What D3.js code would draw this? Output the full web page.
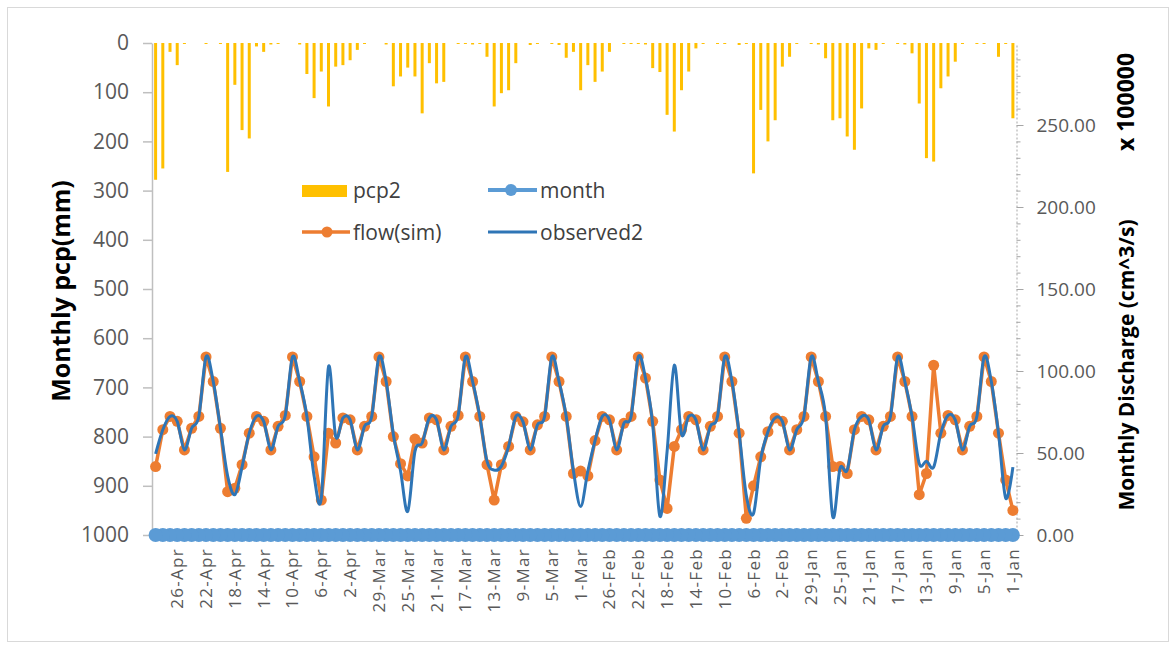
<!DOCTYPE html>
<html>
<head>
<meta charset="utf-8">
<script src="https://cdn.jsdelivr.net/npm/d3@7/dist/d3.min.js"></script>
<style>
  html, body { margin: 0; padding: 0; background: #fff; }
  svg { display: block; }
  text { font-family: "Open Sans", "DejaVu Sans", sans-serif; }
</style>
</head>
<body>
<svg id="chart" width="1176" height="645"></svg>
<script>
// ---- data: 120 monthly records, category keys are day serials 1..120 ----
const days = d3.range(1, 121);

// monthly precipitation (mm), plotted downward from the top
const pcp2 = [153, 2, 28, 0, 2, 2, 0, 2, 38, 68,
  92, 241, 234, 123, 21, 3, 2, 0, 2, 14,
  11, 133, 217, 190, 153, 157, 31, 3, 2, 0,
  2, 28, 48, 157, 200, 136, 265, 2, 4, 0,
  2, 2, 0, 2, 11, 58, 96, 180, 146, 59,
  51, 3, 2, 2, 2, 0, 18, 58, 79, 45,
  96, 18, 30, 4, 2, 0, 2, 4, 0, 41,
  96, 102, 129, 28, 2, 3, 2, 2, 0, 79,
  82, 41, 143, 68, 50, 68, 88, 3, 0, 0,
  2, 14, 35, 45, 48, 129, 58, 112, 63, 3,
  0, 0, 2, 3, 18, 7, 194, 177, 85, 262,
  2, 0, 2, 0, 0, 2, 45, 18, 255, 278];

// simulated discharge (cm^3/s, in units of 100000)
const flowSim = [15.0, 33.6, 62.1, 93.6, 108.6, 72.3, 66.3, 51.9, 70.2, 72.9,
  62.1, 103.5, 37.5, 24.6, 72.3, 93.6, 108.6, 72.3, 66.3, 51.9,
  70.2, 72.3, 64.2, 37.5, 41.7, 41.7, 72.3, 93.6, 108.6, 72.3,
  64.2, 51.9, 69.3, 71.4, 63.0, 47.7, 30.0, 10.2, 62.1, 93.6,
  108.6, 72.3, 66.3, 51.9, 70.2, 72.3, 64.2, 54.0, 16.2, 33.6,
  69.3, 95.7, 108.6, 72.3, 68.1, 51.9, 70.2, 72.3, 57.6, 36.0,
  39.0, 37.5, 72.3, 93.6, 108.6, 72.3, 67.2, 51.9, 69.0, 72.3,
  54.0, 42.9, 21.3, 42.9, 72.3, 93.6, 108.6, 72.9, 66.3, 51.9,
  70.2, 71.4, 56.1, 58.5, 36.0, 43.5, 60.0, 93.6, 108.6, 72.3,
  66.3, 51.9, 70.2, 71.4, 56.1, 62.1, 21.3, 47.7, 72.3, 93.6,
  108.6, 72.9, 66.3, 51.9, 69.3, 72.3, 62.1, 42.9, 28.5, 26.4,
  65.1, 93.6, 108.6, 72.3, 65.1, 51.9, 69.3, 72.3, 64.2, 41.7];

// observed discharge (cm^3/s, in units of 100000)
const observed2 = [41.4, 22.5, 62.1, 93.6, 108.6, 72.3, 66.3, 51.9, 70.2, 72.9,
  62.1, 41.4, 45.0, 43.5, 72.3, 93.6, 108.6, 72.3, 66.3, 51.9,
  70.2, 72.3, 64.2, 39.6, 40.5, 11.1, 72.3, 93.6, 108.6, 72.3,
  64.2, 51.9, 69.3, 71.4, 63.0, 46.5, 13.2, 24.0, 62.1, 93.6,
  108.6, 72.3, 66.3, 51.9, 70.2, 72.3, 61.5, 103.5, 51.0, 11.4,
  67.5, 95.7, 108.6, 72.3, 68.1, 51.9, 70.2, 72.3, 57.6, 39.0,
  17.4, 39.0, 72.3, 93.6, 108.6, 72.3, 67.2, 51.9, 69.0, 72.3,
  54.0, 42.0, 39.6, 45.0, 72.3, 93.6, 108.6, 72.9, 66.3, 51.9,
  70.2, 71.4, 56.1, 51.0, 14.4, 39.0, 61.5, 93.6, 108.6, 72.3,
  66.3, 51.9, 70.2, 71.4, 60.0, 102.6, 22.5, 36.0, 72.3, 93.6,
  108.6, 72.9, 66.3, 51.9, 69.3, 72.3, 62.1, 41.4, 24.6, 36.0,
  65.1, 93.6, 108.6, 72.3, 65.1, 51.9, 69.3, 72.3, 64.2, 49.5];

// month number of each record (raw value, shares the discharge axis)
const month = [1, 2, 3, 4, 5, 6, 7, 8, 9, 10, 11, 12,
  1, 2, 3, 4, 5, 6, 7, 8, 9, 10, 11, 12,
  1, 2, 3, 4, 5, 6, 7, 8, 9, 10, 11, 12,
  1, 2, 3, 4, 5, 6, 7, 8, 9, 10, 11, 12,
  1, 2, 3, 4, 5, 6, 7, 8, 9, 10, 11, 12,
  1, 2, 3, 4, 5, 6, 7, 8, 9, 10, 11, 12,
  1, 2, 3, 4, 5, 6, 7, 8, 9, 10, 11, 12,
  1, 2, 3, 4, 5, 6, 7, 8, 9, 10, 11, 12,
  1, 2, 3, 4, 5, 6, 7, 8, 9, 10, 11, 12,
  1, 2, 3, 4, 5, 6, 7, 8, 9, 10, 11, 12];

// category axis labels (every 4th serial)
const tickDays = [1, 5, 9, 13, 17, 21, 25, 29, 33, 37, 41, 45, 49, 53, 57,
  61, 65, 69, 73, 77, 81, 85, 89, 93, 97, 101, 105, 109, 113, 117];
const tickLabels = ["1-Jan", "5-Jan", "9-Jan", "13-Jan", "17-Jan", "21-Jan", "25-Jan", "29-Jan",
  "2-Feb", "6-Feb", "10-Feb", "14-Feb", "18-Feb", "22-Feb", "26-Feb",
  "1-Mar", "5-Mar", "9-Mar", "13-Mar", "17-Mar", "21-Mar", "25-Mar", "29-Mar",
  "2-Apr", "6-Apr", "10-Apr", "14-Apr", "18-Apr", "22-Apr", "26-Apr"];

const pcpTicks = [0, 100, 200, 300, 400, 500, 600, 700, 800, 900, 1000];
const flowTicks = [0, 50, 100, 150, 200, 250];
const flowMinorTicks = d3.range(10, 300, 10).filter(v => v % 50 !== 0);
const displayUnit = 100000;

// ---- layout ----
const plot = { left: 152, right: 1016.5, top: 43, bottom: 535 };
const svg = d3.select("#chart");

// chart frame
svg.append("rect")
  .attr("x", 7.5).attr("y", 7.5).attr("width", 1161).attr("height", 634)
  .attr("fill", "#fff").attr("stroke", "#d9d9d9").attr("stroke-width", 1);

// ---- scales ----
const x = d3.scaleBand().domain(days).range([plot.right, plot.left]).padding(0);
const cx = d => x(d) + x.bandwidth() / 2;
const yPcp = d3.scaleLinear().domain([0, 1000]).range([plot.top, plot.bottom]);
const yFlow = d3.scaleLinear().domain([0, 300]).range([plot.bottom, plot.top]);

// ---- axes ----
const leftAxis = svg.append("g")
  .attr("transform", `translate(${plot.left},0)`)
  .call(d3.axisLeft(yPcp).tickValues(pcpTicks).tickSize(9).tickSizeOuter(0)
    .tickPadding(14).tickFormat(d3.format("d")));
leftAxis.select(".domain").attr("stroke", "#bfbfbf").attr("stroke-width", 1.5);
leftAxis.selectAll(".tick line").attr("stroke", "#bfbfbf").attr("stroke-width", 1.5);
leftAxis.selectAll(".tick text").attr("fill", "#595959").attr("font-size", 21);

const rightMinor = svg.append("g")
  .attr("transform", `translate(${plot.right},0)`)
  .call(d3.axisRight(yFlow).tickValues(flowMinorTicks).tickSize(4).tickSizeOuter(0).tickFormat(""));
rightMinor.select(".domain").attr("stroke", "#a6a6a6").attr("stroke-dasharray", "2,2");
rightMinor.selectAll(".tick line").attr("stroke", "#a6a6a6");

const rightAxis = svg.append("g")
  .attr("transform", `translate(${plot.right},0)`)
  .call(d3.axisRight(yFlow).tickValues(flowTicks).tickSize(7).tickSizeOuter(0)
    .tickPadding(13).tickFormat(d3.format(".2f")));
rightAxis.select(".domain").remove();
rightAxis.selectAll(".tick line").attr("stroke", "#a6a6a6");
rightAxis.selectAll(".tick text").attr("fill", "#595959").attr("font-size", 19);

const labelByDay = new Map(tickDays.map((d, i) => [d, tickLabels[i]]));
const bottomAxis = svg.append("g")
  .attr("transform", `translate(0,${plot.bottom})`)
  .call(d3.axisBottom(x).tickValues(tickDays).tickSize(0).tickSizeOuter(0)
    .tickFormat(d => labelByDay.get(d)));
bottomAxis.select(".domain").attr("stroke", "#d9d9d9");
bottomAxis.selectAll(".tick text")
  .attr("transform", "rotate(-90)")
  .attr("text-anchor", "end")
  .attr("x", -13).attr("y", 0).attr("dy", "0.35em")
  .attr("fill", "#595959").attr("font-size", 17)
  .attr("letter-spacing", 1.3);

// ---- precipitation bars (hanging from the top) ----
const barW = 3;
svg.append("g").selectAll("rect")
  .data(days.map((d, i) => ({ d, v: pcp2[i] })))
  .join("rect")
  .attr("x", p => cx(p.d) - barW / 2)
  .attr("y", yPcp(0))
  .attr("width", barW)
  .attr("height", p => yPcp(p.v) - yPcp(0))
  .attr("fill", "#FFC000");

// ---- month series ----
const monthPts = days.map((d, i) => [cx(d), yFlow(month[i] / displayUnit)]);
svg.append("path").attr("d", d3.line()(monthPts))
  .attr("fill", "none").attr("stroke", "#5B9BD5").attr("stroke-width", 4);
svg.append("g").selectAll("circle").data(monthPts).join("circle")
  .attr("cx", p => p[0]).attr("cy", p => p[1]).attr("r", 7)
  .attr("fill", "#5B9BD5");

// ---- simulated flow ----
const simPts = days.map((d, i) => [cx(d), yFlow(flowSim[i])]);
svg.append("path").attr("d", d3.line()(simPts))
  .attr("fill", "none").attr("stroke", "#ED7D31").attr("stroke-width", 3.5)
  .attr("stroke-linejoin", "round");
svg.append("g").selectAll("circle").data(simPts).join("circle")
  .attr("cx", p => p[0]).attr("cy", p => p[1]).attr("r", 5.5)
  .attr("fill", "#ED7D31");

// ---- observed flow (smoothed) ----
const obsPts = days.map((d, i) => [cx(d), yFlow(observed2[i])]);
svg.append("path").attr("d", d3.line().curve(d3.curveCardinal.tension(0))(obsPts))
  .attr("fill", "none").attr("stroke", "#2E75B6").attr("stroke-width", 3)
  .attr("stroke-linejoin", "round");

// ---- axis titles ----
svg.append("text")
  .attr("transform", "translate(70,291) rotate(-90)")
  .attr("text-anchor", "middle").attr("font-size", 25).attr("font-weight", 700)
  .attr("fill", "#000").text("Monthly pcp(mm)");
svg.append("text")
  .attr("transform", "translate(1134,365) rotate(-90)")
  .attr("text-anchor", "middle").attr("font-size", 21).attr("font-weight", 700)
  .attr("fill", "#000").text("Monthly Discharge (cm^3/s)");
svg.append("text")
  .attr("transform", "translate(1134,102) rotate(-90)")
  .attr("text-anchor", "middle").attr("font-size", 23).attr("font-weight", 700)
  .attr("fill", "#000").text("x 100000");

// ---- legend ----
const legend = svg.append("g");
const legendFont = 21;
// pcp2
legend.append("rect").attr("x", 302).attr("y", 185).attr("width", 45).attr("height", 12)
  .attr("fill", "#FFC000");
legend.append("text").attr("x", 353).attr("y", 198).attr("font-size", legendFont)
  .attr("fill", "#404040").text("pcp2");
// month
legend.append("line").attr("x1", 488).attr("x2", 537).attr("y1", 190).attr("y2", 190)
  .attr("stroke", "#5B9BD5").attr("stroke-width", 4);
legend.append("circle").attr("cx", 511).attr("cy", 190).attr("r", 6).attr("fill", "#5B9BD5");
legend.append("text").attr("x", 540).attr("y", 198).attr("font-size", legendFont)
  .attr("fill", "#404040").text("month");
// flow(sim)
legend.append("line").attr("x1", 302).attr("x2", 350).attr("y1", 232).attr("y2", 232)
  .attr("stroke", "#ED7D31").attr("stroke-width", 3.5);
legend.append("circle").attr("cx", 327).attr("cy", 232).attr("r", 5.5).attr("fill", "#ED7D31");
legend.append("text").attr("x", 353).attr("y", 240).attr("font-size", legendFont)
  .attr("fill", "#404040").text("flow(sim)");
// observed2
legend.append("line").attr("x1", 488).attr("x2", 537).attr("y1", 232).attr("y2", 232)
  .attr("stroke", "#2E75B6").attr("stroke-width", 3);
legend.append("text").attr("x", 540).attr("y", 240).attr("font-size", legendFont)
  .attr("fill", "#404040").text("observed2");
</script>
</body>
</html>
